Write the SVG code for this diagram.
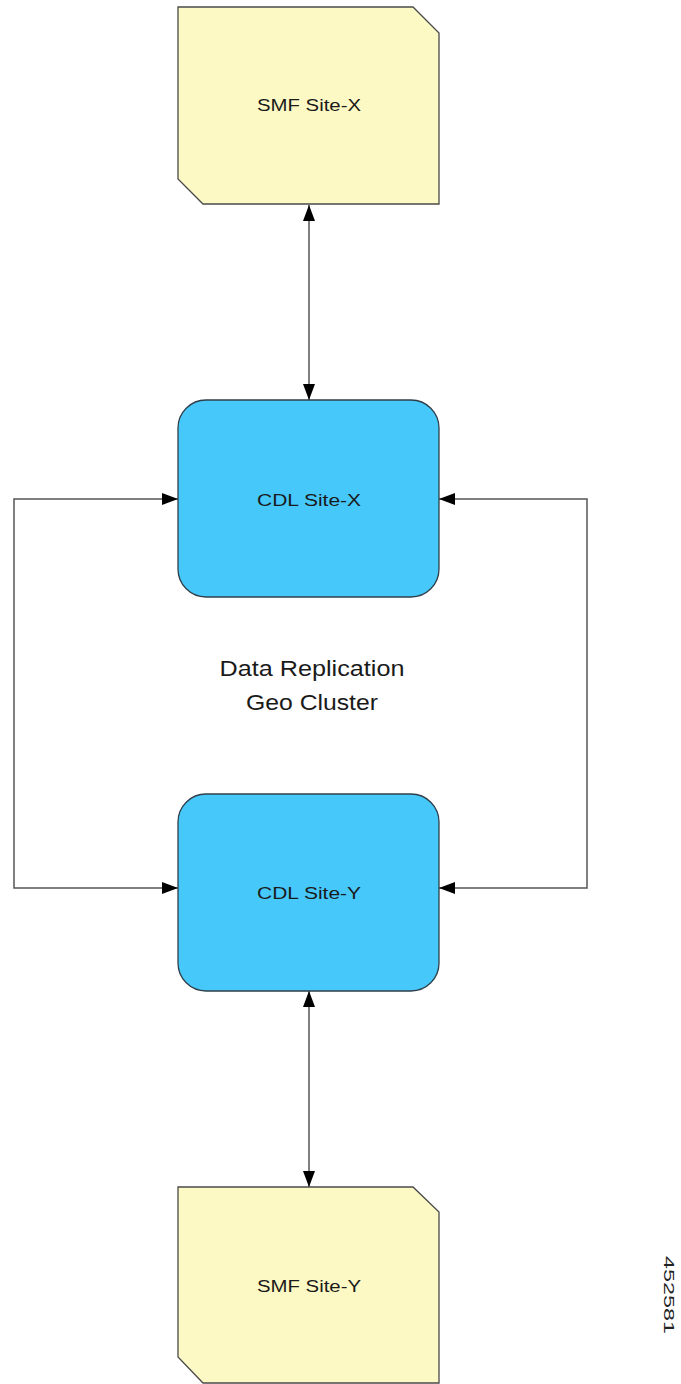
<svg xmlns="http://www.w3.org/2000/svg" width="681" height="1384" viewBox="0 0 681 1384">
<style>
.smf{fill:#FDF9C4;stroke:#4a4a4a;stroke-width:1.3}
.cdl{fill:#46C8FA;stroke:#2f3f4a;stroke-width:1.3}
.lbl{font-family:"Liberation Sans",Arial,sans-serif;font-size:16px;fill:#1a1a1a;text-anchor:middle}
.big{font-family:"Liberation Sans",Arial,sans-serif;font-size:22px;fill:#1a1a1a;text-anchor:middle}
.ln{fill:none;stroke:#555;stroke-width:1.5}
</style>
<defs>
<marker id="ah" viewBox="0 0 16 12" refX="16" refY="6" markerWidth="16" markerHeight="12" markerUnits="userSpaceOnUse" orient="auto-start-reverse">
<path d="M0,0 L16,6 L0,12 Z" fill="#000"/>
</marker>
</defs>
<rect width="681" height="1384" fill="#fff"/>
<g id="connectors">
<line class="ln" x1="309" y1="205" x2="309" y2="400" marker-start="url(#ah)" marker-end="url(#ah)"/>
<line class="ln" x1="309" y1="991" x2="309" y2="1187" marker-start="url(#ah)" marker-end="url(#ah)"/>
<polyline class="ln" points="178,499 14,499 14,888 178,888" marker-start="url(#ah)" marker-end="url(#ah)"/>
<polyline class="ln" points="439,499 587,499 587,888 439,888" marker-start="url(#ah)" marker-end="url(#ah)"/>
</g>
<g id="smf-x">
<path class="smf" d="M178,7 L413,7 L439,33 L439,204 L203,204 L178,179 Z"/>
<text class="lbl" x="309" y="111" textLength="104" lengthAdjust="spacingAndGlyphs">SMF Site-X</text>
</g>
<g id="cdl-x">
<rect class="cdl" x="178" y="400" width="261" height="197" rx="28" ry="28"/>
<text class="lbl" x="309" y="506" textLength="104" lengthAdjust="spacingAndGlyphs">CDL Site-X</text>
</g>
<g id="cdl-y">
<rect class="cdl" x="178" y="794" width="261" height="197" rx="28" ry="28"/>
<text class="lbl" x="309" y="899" textLength="104" lengthAdjust="spacingAndGlyphs">CDL Site-Y</text>
</g>
<g id="smf-y">
<path class="smf" d="M178,1187 L413,1187 L439,1212 L439,1383 L203,1383 L178,1357 Z"/>
<text class="lbl" x="309" y="1292" textLength="104" lengthAdjust="spacingAndGlyphs">SMF Site-Y</text>
</g>
<g id="label">
<text class="big" x="312" y="676" textLength="185" lengthAdjust="spacingAndGlyphs">Data Replication</text>
<text class="big" x="312" y="710" textLength="132" lengthAdjust="spacingAndGlyphs">Geo Cluster</text>
</g>
<text x="664" y="1295" font-family="'Liberation Sans',Arial,sans-serif" font-size="14" fill="#222" text-anchor="middle" textLength="78" lengthAdjust="spacingAndGlyphs" transform="rotate(90 664 1295)">452581</text>
</svg>
